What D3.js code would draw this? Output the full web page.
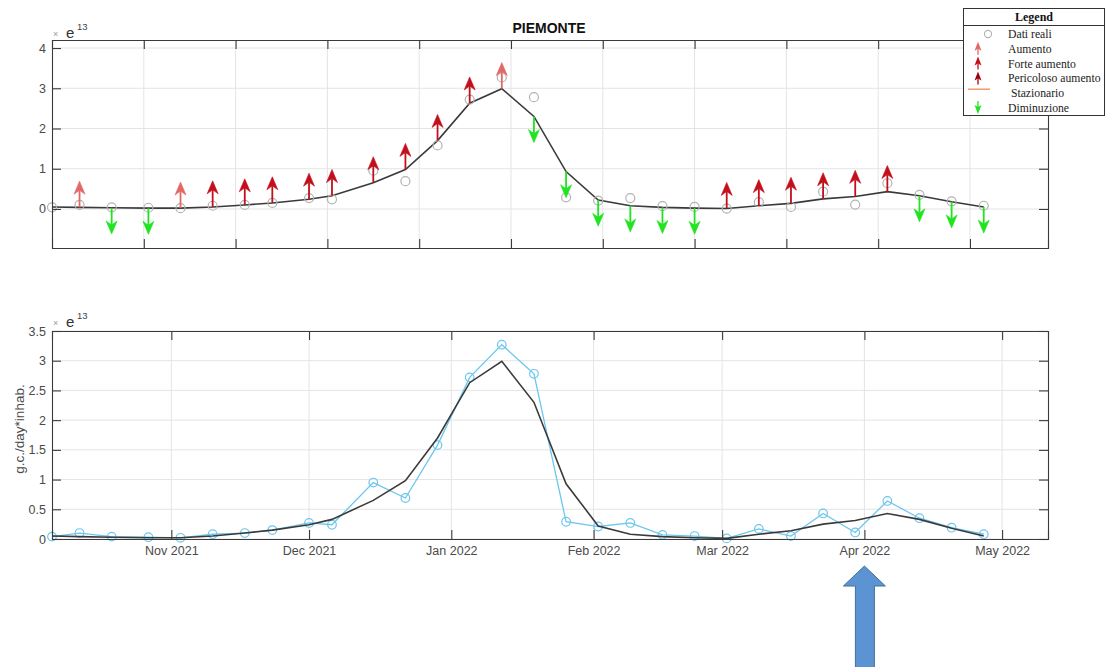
<!DOCTYPE html>
<html>
<head>
<meta charset="utf-8">
<script src="https://cdn.jsdelivr.net/npm/d3@7"></script>
<style>
  html, body { margin: 0; padding: 0; background: #fff; }
  svg { display: block; font-family: "Liberation Sans", Arial, sans-serif; }
</style>
</head>
<body>
<svg id="chart" width="1107" height="667"></svg>
<script>
// Weekly wastewater samples (values in units of 1e13 g.c./day*inhab.)
const sampleDates = [
  "2021-10-06","2021-10-12","2021-10-19","2021-10-27","2021-11-03","2021-11-10",
  "2021-11-17","2021-11-23","2021-12-01","2021-12-06","2021-12-15","2021-12-22",
  "2021-12-29","2022-01-05","2022-01-12","2022-01-19","2022-01-26","2022-02-02",
  "2022-02-09","2022-02-16","2022-02-23","2022-03-02","2022-03-09","2022-03-16",
  "2022-03-23","2022-03-30","2022-04-06","2022-04-13","2022-04-20","2022-04-27"
];
const realValues = [
  0.04, 0.10, 0.04, 0.03, 0.02, 0.08, 0.10, 0.15, 0.27, 0.24, 0.95, 0.69,
  1.58, 2.72, 3.27, 2.78, 0.29, 0.21, 0.27, 0.07, 0.05, 0.01, 0.17, 0.05,
  0.43, 0.11, 0.64, 0.35, 0.19, 0.08
];
const trendValues = [
  0.05, 0.04, 0.03, 0.02, 0.02, 0.05, 0.10, 0.15, 0.24, 0.33, 0.65, 0.98,
  1.70, 2.63, 2.99, 2.30, 0.93, 0.22, 0.08, 0.04, 0.02, 0.01, 0.08, 0.14,
  0.25, 0.31, 0.43, 0.33, 0.18, 0.05
];
// Trend class for each sample (first sample has no previous one)
const trendClass = [
  "", "aumento", "diminuzione", "diminuzione", "aumento", "forte",
  "forte", "forte", "forte", "forte", "forte", "forte",
  "forte", "forte", "aumento", "diminuzione", "diminuzione", "diminuzione",
  "diminuzione", "diminuzione", "diminuzione", "forte", "forte", "forte",
  "forte", "forte", "forte", "diminuzione", "diminuzione", "diminuzione"
];
const monthTicks = ["2021-11-01","2021-12-01","2022-01-01","2022-02-01","2022-03-01","2022-04-01","2022-05-01"];
const dayTicks = [20, 40, 60, 80, 100, 120, 140, 160, 180, 200];
const topYTicks = [0, 1, 2, 3, 4];
const bottomYTicks = [0, 0.5, 1, 1.5, 2, 2.5, 3, 3.5];
const legendLabels = ["Dati reali", "Aumento", "Forte aumento", "Pericoloso aumento", " Stazionario", "Diminuzione"];
const regionTitle = "PIEMONTE";
const yAxisTitle = "g.c./day*inhab.";

const colors = {
  aumento: "#e26868",
  forte: "#c20f1b",
  pericoloso: "#a0000e",
  stazionario: "#f59a6a",
  diminuzione: "#1fe41f",
  real: "#b3b3b3",
  realLine: "#6cc6ee",
  trend: "#3a3a3a",
  grid: "#e4e4e4",
  axis: "#3a3a3a",
  text: "#4a4a4a"
};

const parse = d3.timeParse("%Y-%m-%d");
const dates = sampleDates.map(parse);
const startDate = parse("2021-10-06");
const endDate = parse("2022-05-11");
const dayOf = d => d3.timeDay.count(startDate, d);
const days = dates.map(dayOf);

const svg = d3.select("#chart");
const left = 52, right = 1048;

// ---------- Top panel: trend with arrows ----------
const topBox = { y0: 40, y1: 248 };
const xTop = d3.scaleLinear().domain([0, dayOf(endDate)]).range([left, right]);
const yTop = d3.scaleLinear().domain([-0.97, 4.2]).range([topBox.y1, topBox.y0]);

// ---------- Bottom panel: data vs trend ----------
const botBox = { y0: 331, y1: 539 };
const xBot = d3.scaleTime().domain([startDate, endDate]).range([left, right]);
const yBot = d3.scaleLinear().domain([0, 3.5]).range([botBox.y1, botBox.y0]);

function drawGrid(g, x, y, xTicks, yTicks, y0, y1) {
  g.append("g").selectAll("line").data(xTicks).join("line")
    .attr("x1", d => x(d)).attr("x2", d => x(d)).attr("y1", y0).attr("y2", y1)
    .attr("stroke", colors.grid).attr("stroke-width", 1);
  g.append("g").selectAll("line").data(yTicks).join("line")
    .attr("x1", left).attr("x2", right).attr("y1", d => y(d)).attr("y2", d => y(d))
    .attr("stroke", colors.grid).attr("stroke-width", 1);
}

function drawAxes(g, x, y, xTicks, yTicks, y0, y1, yFmt, xFmt) {
  const tl = 9;
  const axL = g.append("g").attr("transform", `translate(${left},0)`)
    .call(d3.axisLeft(y).tickValues(yTicks).tickSize(-tl).tickPadding(6).tickFormat(yFmt));
  const axR = g.append("g").attr("transform", `translate(${right},0)`)
    .call(d3.axisRight(y).tickValues(yTicks).tickSize(-tl).tickFormat(""));
  const axB = g.append("g").attr("transform", `translate(0,${y1})`)
    .call(d3.axisBottom(x).tickValues(xTicks).tickSize(-tl).tickPadding(7)
      .tickFormat(xFmt || ""));
  const axT = g.append("g").attr("transform", `translate(0,${y0})`)
    .call(d3.axisTop(x).tickValues(xTicks).tickSize(-tl).tickFormat(""));
  [axL, axR, axB, axT].forEach(a => {
    a.select(".domain").attr("stroke", colors.axis).attr("stroke-width", 1.1);
    a.selectAll(".tick line").attr("stroke", colors.axis).attr("stroke-width", 1.1);
    a.selectAll(".tick text").attr("fill", colors.text).attr("font-size", 12.5)
      .attr("font-family", '"Liberation Sans", Arial, sans-serif');
  });
}

function exponentLabel(g, yBase) {
  g.append("text").attr("x", 53).attr("y", yBase - 1).attr("font-size", 9)
    .attr("fill", "#9a9a9a").text("×");
  g.append("text").attr("x", 66).attr("y", yBase).attr("font-size", 15)
    .attr("fill", "#333").text("e");
  g.append("text").attr("x", 77).attr("y", yBase - 8).attr("font-size", 9.5)
    .attr("fill", "#444").text("13");
}

// arrow glyph: shaft from (x, yb) to (x, yt), notched head at yt
function arrowPath(x, yb, yt, hw, hl, notch) {
  const dir = yt < yb ? 1 : -1; // +1 when pointing up
  const backY = yt + dir * hl;
  const notchY = yt + dir * (hl - notch);
  return {
    shaft: [x, yb, x, notchY],
    head: `M${x},${yt}L${x + hw / 2},${backY}L${x},${notchY}L${x - hw / 2},${backY}Z`
  };
}

const gTop = svg.append("g");
drawGrid(gTop, xTop, yTop, dayTicks, topYTicks, topBox.y0, topBox.y1);

const lineTop = d3.line().x((d, i) => xTop(days[i])).y(d => yTop(d));
gTop.append("path").datum(trendValues).attr("d", lineTop)
  .attr("fill", "none").attr("stroke", colors.trend).attr("stroke-width", 1.6);

gTop.append("g").selectAll("circle").data(realValues).join("circle")
  .attr("cx", (d, i) => xTop(days[i])).attr("cy", d => yTop(d)).attr("r", 4.5)
  .attr("fill", "none").attr("stroke", colors.real).attr("stroke-width", 1.2);

const arrowLen = 0.65;
const arrowG = gTop.append("g");
trendValues.forEach((v, i) => {
  const c = trendClass[i];
  if (!c) return;
  const up = c !== "diminuzione";
  const col = colors[c];
  const x = xTop(days[i]);
  const yb = yTop(v);
  const yt = yTop(up ? v + arrowLen : v - arrowLen);
  const a = arrowPath(x, yb, yt, 11, 13, 4);
  arrowG.append("line").attr("x1", a.shaft[0]).attr("y1", a.shaft[1])
    .attr("x2", a.shaft[2]).attr("y2", a.shaft[3])
    .attr("stroke", col).attr("stroke-width", 1.8);
  arrowG.append("path").attr("d", a.head).attr("fill", col).attr("stroke", col)
    .attr("stroke-width", 0.6).attr("stroke-linejoin", "miter");
});

drawAxes(gTop, xTop, yTop, dayTicks, topYTicks, topBox.y0, topBox.y1, d3.format("d"), null);
exponentLabel(gTop, 38);

gTop.append("text").attr("x", 549).attr("y", 33).attr("text-anchor", "middle")
  .attr("font-size", 14).attr("font-weight", "bold").attr("fill", "#111").text(regionTitle);

// ---------- bottom ----------
const gBot = svg.append("g");
const monthDates = monthTicks.map(parse);
drawGrid(gBot, xBot, yBot, monthDates, bottomYTicks, botBox.y0, botBox.y1);

const lineBot = d3.line().x((d, i) => xBot(dates[i])).y(d => yBot(d));
gBot.append("path").datum(realValues).attr("d", lineBot)
  .attr("fill", "none").attr("stroke", colors.realLine).attr("stroke-width", 1.3);
gBot.append("g").selectAll("circle").data(realValues).join("circle")
  .attr("cx", (d, i) => xBot(dates[i])).attr("cy", d => yBot(d)).attr("r", 4.3)
  .attr("fill", "none").attr("stroke", colors.realLine).attr("stroke-width", 1.2);
gBot.append("path").datum(trendValues).attr("d", lineBot)
  .attr("fill", "none").attr("stroke", colors.trend).attr("stroke-width", 1.6);

drawAxes(gBot, xBot, yBot, monthDates, bottomYTicks, botBox.y0, botBox.y1,
  d => d3.format("")(d), d3.timeFormat("%b %Y"));
exponentLabel(gBot, 327);

gBot.append("text")
  .attr("transform", `translate(24,${(botBox.y0 + botBox.y1) / 2 - 6}) rotate(-90)`)
  .attr("text-anchor", "middle").attr("font-size", 13.5).attr("fill", colors.text)
  .text(yAxisTitle);

// ---------- legend ----------
const lg = svg.append("g").attr("font-family", '"Liberation Serif", "Times New Roman", serif');
lg.append("rect").attr("x", 963.5).attr("y", 8.5).attr("width", 141).attr("height", 107)
  .attr("fill", "#fff").attr("stroke", "#333").attr("stroke-width", 1);
lg.append("line").attr("x1", 963.5).attr("x2", 1104.5).attr("y1", 25.5).attr("y2", 25.5)
  .attr("stroke", "#333").attr("stroke-width", 1);
lg.append("text").attr("x", 1034).attr("y", 21).attr("text-anchor", "middle")
  .attr("font-size", 12).attr("font-weight", "bold").attr("fill", "#111").text("Legend");

const legendKeys = ["real", "aumento", "forte", "pericoloso", "stazionario", "diminuzione"];
legendLabels.forEach((lab, i) => {
  const cy = 34 + i * 14.8;
  lg.append("text").attr("x", 1008).attr("y", cy + 4).attr("font-size", 11.7)
    .attr("fill", "#222").attr("xml:space", "preserve").text(lab);
  const k = legendKeys[i];
  if (k === "real") {
    lg.append("circle").attr("cx", 988).attr("cy", cy).attr("r", 3.6)
      .attr("fill", "none").attr("stroke", colors.real).attr("stroke-width", 1.1);
  } else if (k === "stazionario") {
    lg.append("line").attr("x1", 968).attr("x2", 990).attr("y1", cy - 4).attr("y2", cy - 4)
      .attr("stroke", colors.stazionario).attr("stroke-width", 1.5);
  } else {
    const up = k !== "diminuzione";
    const yb = up ? cy + 6 : cy - 7;
    const yt = up ? cy - 7 : cy + 6;
    const a = arrowPath(978, yb, yt, 7, 9, 2);
    lg.append("line").attr("x1", a.shaft[0]).attr("y1", a.shaft[1])
      .attr("x2", a.shaft[2]).attr("y2", a.shaft[3])
      .attr("stroke", colors[k]).attr("stroke-width", 1.3);
    lg.append("path").attr("d", a.head).attr("fill", colors[k]);
  }
});

// ---------- highlight arrow under April ----------
const aprX = xBot(parse("2022-04-01"));
const hl = d3.path();
hl.moveTo(aprX, 566);
hl.lineTo(aprX + 21, 586);
hl.lineTo(aprX + 10, 586);
hl.lineTo(aprX + 10, 672);
hl.lineTo(aprX - 9, 672);
hl.lineTo(aprX - 9, 586);
hl.lineTo(aprX - 21, 586);
hl.closePath();
svg.append("path").attr("d", hl.toString()).attr("fill", "#5b93d3")
  .attr("stroke", "#41719c").attr("stroke-width", 1);
</script>
</body>
</html>
